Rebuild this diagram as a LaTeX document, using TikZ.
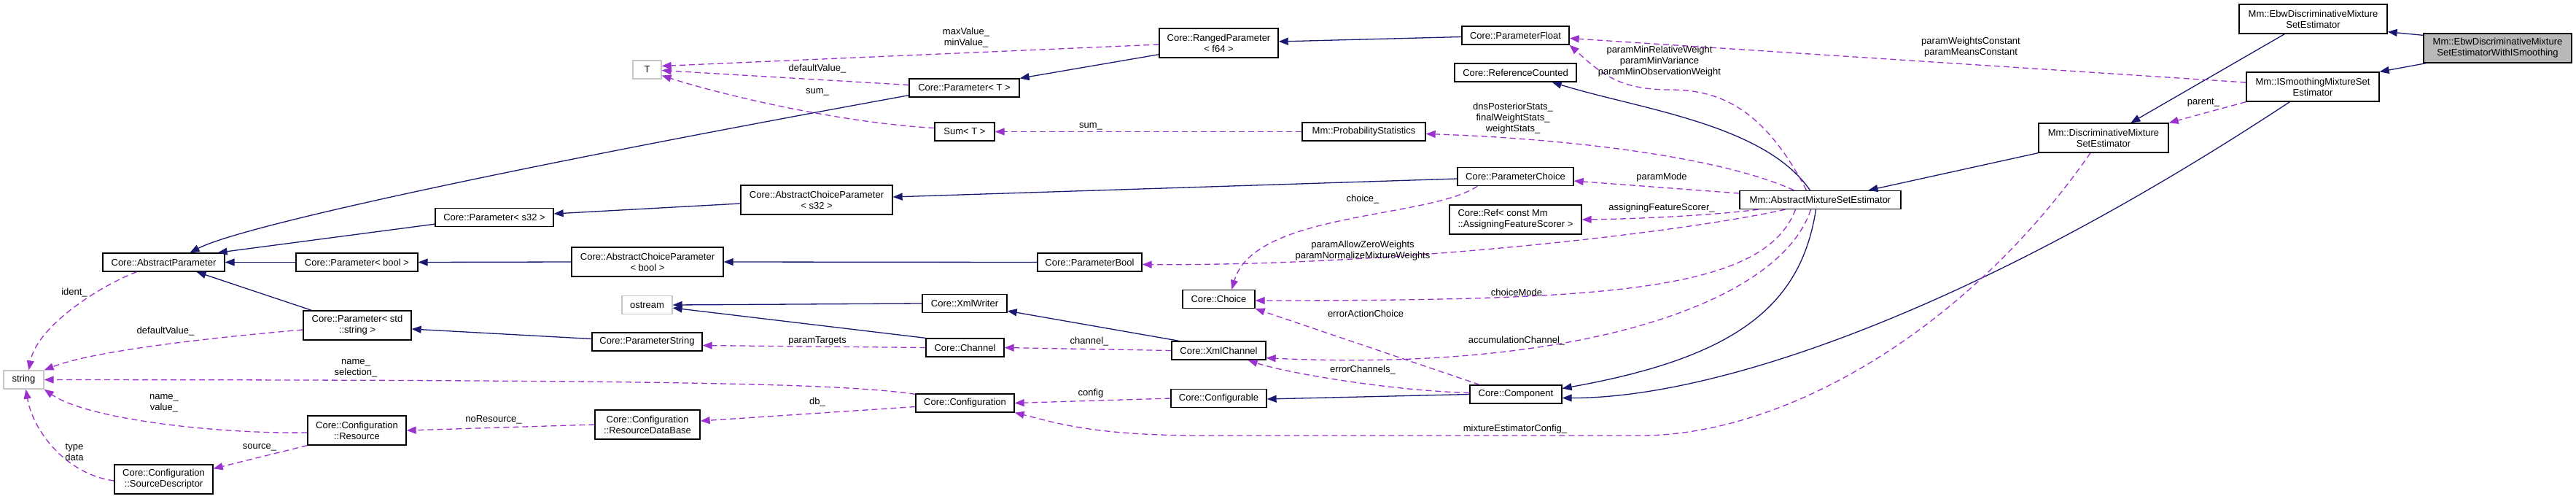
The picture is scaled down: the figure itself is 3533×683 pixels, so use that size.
\documentclass[tikz,border=0pt]{standalone}
\usepackage{fontspec}
\setmainfont{Liberation Sans}
\usetikzlibrary{arrows.meta}
\definecolor{edgeblue}{HTML}{191970}
\definecolor{edgeviolet}{HTML}{9A32CD}

\begin{document}
\begin{tikzpicture}[
  x=1pt, y=-1pt,
  cls/.style={draw=black, line width=1.3pt, fill=white, align=center, inner sep=0pt, minimum height=25pt, font=\fontsize{13}{15}\selectfont},
  ext/.style={cls, draw=gray!45},
  focus/.style={cls, fill=gray!55},
  two/.style={minimum height=40pt},
  inh/.style={draw=edgeblue, line width=1.3pt, -{Triangle[length=13pt,width=10pt]}},
  use/.style={draw=edgeviolet, line width=1.3pt, dash pattern=on 8pt off 5pt, -{Triangle[length=13pt,width=10pt]}},
  lbl/.style={align=center, inner sep=0pt, font=\fontsize{13}{15}\selectfont}
]
\useasboundingbox (0,0) rectangle (3533,683);

\node[focus, two, minimum width=203pt] (ebwis) at (3425.5,66) {Mm::EbwDiscriminativeMixture\\SetEstimatorWithISmoothing};
\node[cls, two, minimum width=203pt] (ebw) at (3172.5,26) {Mm::EbwDiscriminativeMixture\\SetEstimator};
\node[cls, two, minimum width=182pt] (ismooth) at (3172,119) {Mm::ISmoothingMixtureSet\\Estimator};
\node[cls, two, minimum width=178pt] (discr) at (2885,189) {Mm::DiscriminativeMixture\\SetEstimator};
\node[cls, minimum width=221pt] (amse) at (2496.5,274) {Mm::AbstractMixtureSetEstimator};
\node[cls, minimum width=147pt] (paramfloat) at (2078.5,48.5) {Core::ParameterFloat};
\node[cls, minimum width=167pt] (refcounted) at (2078.5,99.5) {Core::ReferenceCounted};
\node[cls, minimum width=169pt] (probstats) at (1870.5,180.5) {Mm::ProbabilityStatistics};
\node[cls, minimum width=159pt] (paramchoice) at (2078.5,242) {Core::ParameterChoice};
\node[cls, two, minimum width=181pt, align=left] (featref) at (2078.5,301) {Core::Ref< const Mm\\::AssigningFeatureScorer >};
\node[cls, minimum width=126pt] (component) at (2079,540.5) {Core::Component};
\node[cls, two, minimum width=163pt] (ranged) at (1671.5,59) {Core::RangedParameter\\< f64 >};
\node[cls, minimum width=151pt] (par-t) at (1322.5,120.5) {Core::Parameter< T >};
\node[cls, minimum width=82pt] (sum) at (1323,180.5) {Sum< T >};
\node[ext, minimum width=39pt] (t) at (887.5,95.5) {T};
\node[cls, two, minimum width=208pt] (acp-s32) at (1120,274) {Core::AbstractChoiceParameter\\< s32 >};
\node[cls, minimum width=162pt] (par-s32) at (678,298) {Core::Parameter< s32 >};
\node[cls, minimum width=167pt] (absparam) at (224.5,359.5) {Core::AbstractParameter};
\node[cls, minimum width=167pt] (par-bool) at (489.5,359.5) {Core::Parameter< bool >};
\node[cls, two, minimum width=208pt] (acp-bool) at (888,359) {Core::AbstractChoiceParameter\\< bool >};
\node[cls, minimum width=143pt] (parambool) at (1494.5,359.5) {Core::ParameterBool};
\node[cls, minimum width=99pt] (choice) at (1671.5,410) {Core::Choice};
\node[ext, minimum width=69pt] (ostream) at (887.5,418) {ostream};
\node[cls, minimum width=116pt] (xmlwriter) at (1323,416) {Core::XmlWriter};
\node[cls, two, minimum width=148pt] (par-str) at (490,446) {Core::Parameter< std\\::string >};
\node[cls, minimum width=151pt] (paramstring) at (887.5,468.5) {Core::ParameterString};
\node[cls, minimum width=107pt] (channel) at (1323.5,476.5) {Core::Channel};
\node[cls, minimum width=129pt] (xmlchannel) at (1671.5,480.5) {Core::XmlChannel};
\node[ext, minimum width=55pt] (string) at (32.5,520.5) {string};
\node[cls, minimum width=135pt] (config) at (1323.5,552.5) {Core::Configuration};
\node[cls, minimum width=131pt] (configurable) at (1671.5,546) {Core::Configurable};
\node[cls, two, minimum width=135pt] (resource) at (489.5,590) {Core::Configuration\\::Resource};
\node[cls, two, minimum width=144pt] (resdb) at (888,582) {Core::Configuration\\::ResourceDataBase};
\node[cls, two, minimum width=135pt] (srcdesc) at (224.5,657) {Core::Configuration\\::SourceDescriptor};

\draw[inh] ([yshift=-3pt]ebwis.north west) -- ([yshift=3pt]ebw.south east);
\draw[inh] ([xshift=4pt]ebwis.south west) -- (ismooth.north east);
\draw[inh] ([xshift=63pt]ebw.south west) -- ([xshift=127pt]discr.north west);
\draw[inh] ([xshift=60pt]ismooth.south west) .. controls (2700,430) and (2350,546) .. ([yshift=-5pt]component.east);
\draw[inh] (discr.south west) -- ([xshift=66pt]amse.north);
\draw[inh] ([xshift=-6pt]amse.south) .. controls (2470,420) and (2380,490) .. ([yshift=8pt]component.east);
\draw[inh] ([xshift=-14pt]amse.north) .. controls (2420,170) and (2250,150) .. ([xshift=-34pt]refcounted.south east);
\draw[inh] (component.west) -- ([yshift=-1pt]configurable.east);
\draw[inh] ([xshift=11pt]xmlchannel.north west) -- ([yshift=3pt]xmlwriter.south east);
\draw[inh] (xmlwriter.west) -- (ostream.east);
\draw[inh] (channel.north west) -- ([yshift=-4pt]ostream.east);
\draw[inh] ([yshift=4pt]paramstring.west) -- ([yshift=-5pt]par-str.east);
\draw[inh] ([xshift=12pt]par-str.north west) -- ([xshift=45pt]absparam.south);
\draw[inh] (par-bool.west) -- (absparam.east);
\draw[inh] (acp-bool.west) -- (par-bool.east);
\draw[inh] (parambool.west) -- (acp-bool.east);
\draw[inh] ([yshift=4pt]par-s32.south west) -- ([xshift=-10pt]absparam.north east);
\draw[inh] ([yshift=-5pt]acp-s32.west) -- ([yshift=5pt]par-s32.east);
\draw[inh] ([yshift=-3pt]paramchoice.west) -- ([yshift=4pt]acp-s32.east);
\draw[inh] ([yshift=3pt]par-t.south west) .. controls (700,230) and (330,310) .. ([xshift=36pt]absparam.north);
\draw[inh] ([yshift=5pt]ranged.south west) -- (par-t.north east);
\draw[inh] ([yshift=-2pt]paramfloat.west) -- ([yshift=2pt]ranged.east);

\draw[use] ([yshift=-2pt]ranged.west) -- ([yshift=5pt]t.east);
\draw[use] ([yshift=4pt]par-t.west) -- ([yshift=-1pt]t.east);
\draw[use] ([yshift=5pt]sum.west) .. controls (1150,168) and (990,130) .. ([yshift=-8pt]t.east);
\draw[use] (probstats.west) -- (sum.east);
\draw[use] ([xshift=-36pt]amse.north) .. controls (2360,215) and (2150,190) .. ([yshift=-3pt]probstats.east);
\draw[use] ([xshift=-19pt]amse.north) .. controls (2420,150) and (2360,123) .. (2290,123) .. controls (2220,123) and (2195,100) .. (paramfloat.south east);
\draw[use] ([yshift=6pt]ismooth.west) -- ([yshift=-4pt]paramfloat.east);
\draw[use] (ismooth.south west) -- (discr.north east);
\draw[use] ([yshift=9pt]amse.west) -- ([yshift=-6pt]paramchoice.east);
\draw[use] ([xshift=-85pt]amse.south) .. controls (2350,295) and (2250,300) .. (featref.east);
\draw[use] ([xshift=-48pt]amse.south) .. controls (2300,320) and (1900,365) .. ([yshift=-3pt]parambool.east);
\draw[use] ([xshift=28pt]paramchoice.south west) .. controls (1960,300) and (1720,290) .. ([xshift=68pt]choice.north west);
\draw[use] ([xshift=-34pt]amse.south) .. controls (2420,400) and (2200,412) .. ([yshift=-2pt]choice.east);
\draw[use] ([xshift=14pt]component.north west) -- (choice.south east);
\draw[use] ([xshift=-13pt]amse.south) .. controls (2440,420) and (2150,510) .. ([yshift=3pt]xmlchannel.south east);
\draw[use] ([yshift=2pt]component.west) .. controls (1900,535) and (1760,510) .. ([xshift=-25pt]xmlchannel.south east);
\draw[use] (xmlchannel.west) -- (channel.east);
\draw[use] (channel.west) -- ([yshift=-5pt]paramstring.east);
\draw[use] (configurable.west) -- (config.east);
\draw[use] ([yshift=-5pt]config.west) -- ([yshift=5pt]resdb.east);
\draw[use] ([yshift=-1pt]config.north west) .. controls (1150,525) and (900,521) .. (string.east);
\draw[use] ([xshift=-18pt]discr.south) .. controls (2700,450) and (2450,597) .. (2250,597) -- (1650,597) .. controls (1500,597) and (1450,580) .. (config.south east);
\draw[use] (resdb.west) -- (resource.east);
\draw[use] ([yshift=-3pt]resource.west) .. controls (300,595) and (120,575) .. (string.south east);
\draw[use] (resource.south west) -- ([yshift=-6pt]srcdesc.north east);
\draw[use] ([yshift=-2pt]srcdesc.west) .. controls (90,650) and (45,590) .. ([xshift=3pt]string.south);
\draw[use] ([xshift=-37pt]absparam.south) .. controls (130,395) and (50,450) .. ([xshift=7pt]string.north);
\draw[use] ([yshift=-6pt]par-str.west) .. controls (300,462) and (130,480) .. (string.north east);

\node[lbl] (l-maxmin) at (1325,52) {maxValue\_\\minValue\_};
\node[lbl] (l-deft) at (1121,94) {defaultValue\_};
\node[lbl] (l-sumt) at (1121,126) {sum\_};
\node[lbl] (l-sum) at (1496,173) {sum\_};
\node[lbl] (l-stats) at (2075,162) {dnsPosteriorStats\_\\finalWeightStats\_\\weightStats\_};
\node[lbl] (l-minw) at (2276,84) {paramMinRelativeWeight\\paramMinVariance\\paramMinObservationWeight};
\node[lbl] (l-const) at (2703,65) {paramWeightsConstant\\paramMeansConstant};
\node[lbl] (l-parent) at (3022,141) {parent\_};
\node[lbl] (l-mode) at (2279,243) {paramMode};
\node[lbl] (l-scorer) at (2279,285) {assigningFeatureScorer\_};
\node[lbl] (l-weights) at (1869,344) {paramAllowZeroWeights\\paramNormalizeMixtureWeights};
\node[lbl] (l-choice) at (1869,273) {choice\_};
\node[lbl] (l-cmode) at (2080,401) {choiceMode};
\node[lbl] (l-erract) at (1873,430) {errorActionChoice};
\node[lbl] (l-accum) at (2080,467) {accumulationChannel\_};
\node[lbl] (l-errch) at (1869,507) {errorChannels\_};
\node[lbl] (l-channel) at (1494,468) {channel\_};
\node[lbl] (l-targets) at (1121,467) {paramTargets};
\node[lbl] (l-config) at (1496,539) {config};
\node[lbl] (l-db) at (1121,551) {db\_};
\node[lbl] (l-namesel) at (488,505) {name\_\\selection\_};
\node[lbl] (l-mixcfg) at (2078,588) {mixtureEstimatorConfig\_};
\node[lbl] (l-nores) at (677,575) {noResource\_};
\node[lbl] (l-namevalue) at (225,553) {name\_\\value\_};
\node[lbl] (l-source) at (356,613) {source\_};
\node[lbl] (l-typedata) at (102,620) {type\\data};
\node[lbl] (l-ident) at (102,401) {ident\_};
\node[lbl] (l-defstr) at (227,454) {defaultValue\_};
\end{tikzpicture}
\end{document}
